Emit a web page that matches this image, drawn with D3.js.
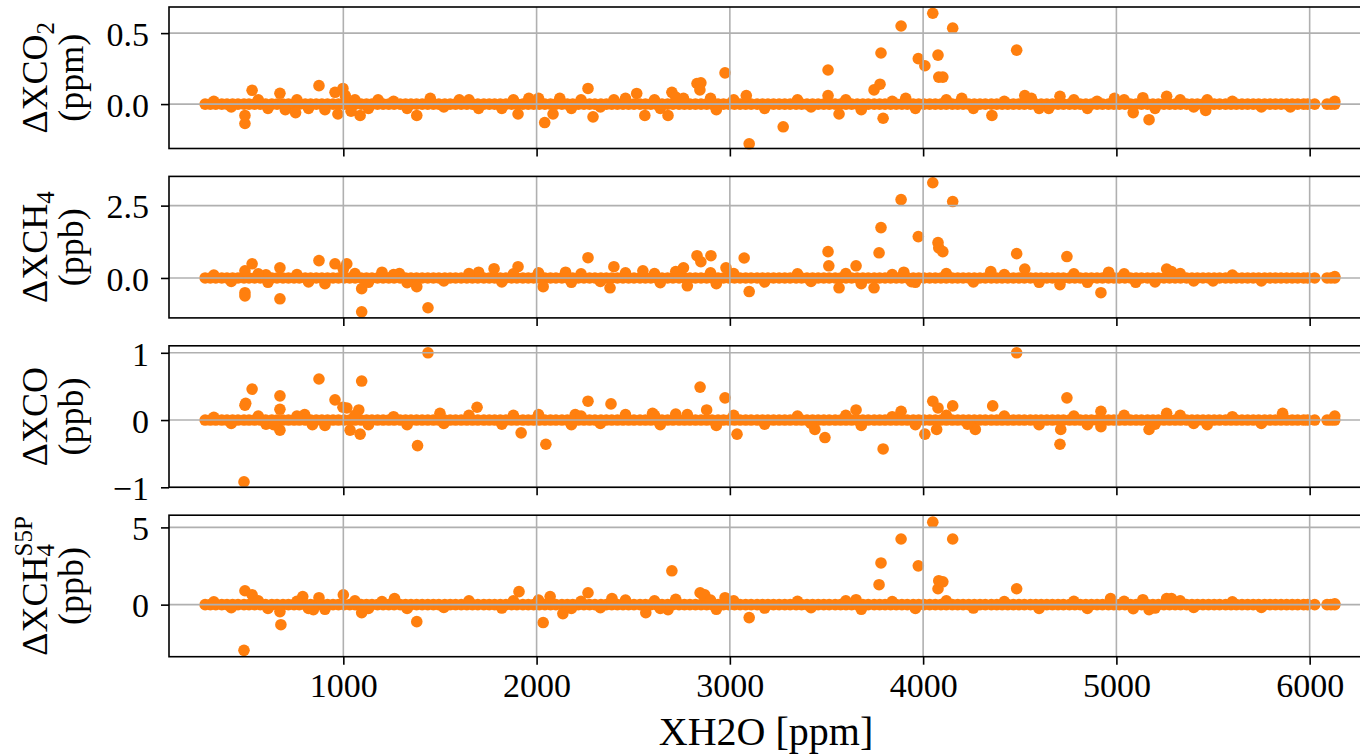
<!DOCTYPE html>
<html>
<head>
<meta charset="utf-8">
<script src="https://cdn.jsdelivr.net/npm/d3@7"></script>
<style>
body { margin: 0; background: #fff; }
svg text { font-family: "Liberation Serif", "DejaVu Serif", serif; fill: #000; }
</style>
</head>
<body>
<div class="chart"></div>
<script>
// shared x axis (XH2O in ppm)
var xTicks = [1000, 2000, 3000, 4000, 5000, 6000];

// x positions of the dense cluster of samples sitting on zero in every panel
var bandX = [285, 312, 340, 371, 398, 427, 455, 486, 512, 541, 570, 598, 630, 657, 688, 716, 745, 772, 803, 831,
	860, 889, 918, 947, 975, 1004, 1033, 1061, 1092, 1120, 1148, 1177, 1206, 1235, 1263, 1294, 1322, 1350, 1379, 1408,
	1437, 1466, 1494, 1525, 1553, 1581, 1610, 1639, 1668, 1696, 1727, 1755, 1783, 1812, 1841, 1870, 1898, 1929, 1957, 1985,
	2014, 2043, 2072, 2100, 2131, 2159, 2187, 2216, 2245, 2274, 2302, 2333, 2361, 2389, 2418, 2447, 2476, 2504, 2535, 2563,
	2591, 2620, 2649, 2678, 2706, 2737, 2765, 2793, 2822, 2851, 2880, 2908, 2939, 2967, 2995, 3024, 3053, 3082, 3110, 3141,
	3169, 3197, 3226, 3255, 3284, 3312, 3343, 3371, 3399, 3428, 3457, 3486, 3514, 3545, 3573, 3601, 3630, 3659, 3688, 3716,
	3747, 3775, 3803, 3832, 3861, 3890, 3918, 3949, 3977, 4005, 4034, 4063, 4092, 4120, 4151, 4179, 4207, 4236, 4265, 4294,
	4322, 4353, 4381, 4409, 4438, 4467, 4496, 4524, 4555, 4583, 4611, 4640, 4669, 4698, 4726, 4757, 4785, 4813, 4842, 4871,
	4900, 4928, 4959, 4987, 5015, 5044, 5073, 5102, 5130, 5161, 5189, 5217, 5246, 5275, 5304, 5332, 5363, 5391, 5419, 5448,
	5477, 5506, 5534, 5565, 5593, 5621, 5650, 5679, 5708, 5736, 5767, 5795, 5823, 5852, 5881, 5910, 5938, 5969, 5990, 6026,
	6090, 6110, 6130];

// samples that leave the zero line, [XH2O, delta]
var co2Points = [[491, -0.08], [491, -0.137], [528, 0.097], [672, 0.076], [874, 0.13], [957, 0.083], [998, 0.11], [1087, -0.08],
	[972, -0.07], [1380, -0.08], [700, -0.04], [753, -0.06], [1010, 0.06], [1040, -0.05], [1180, 0.03], [1450, 0.04], [1600, 0.03],
	[1700, -0.03], [1904, -0.07], [1960, 0.04], [2042, -0.13], [2085, -0.07], [2120, 0.04], [2266, 0.11], [2292, -0.09], [2400, 0.03],
	[2518, 0.075], [2560, -0.08], [2700, 0.083], [2680, -0.08], [2760, 0.04], [2830, 0.145], [2850, 0.15], [2845, 0.1], [2975, 0.22],
	[3085, 0.06], [3100, -0.28], [3276, -0.16], [3508, 0.24], [3508, 0.06], [3565, -0.07], [3746, 0.1], [3777, 0.14], [3782, 0.36],
	[3793, -0.1], [3886, 0.55], [3910, 0.04], [3975, 0.32], [4009, 0.27], [4050, 0.64], [4077, 0.345], [4081, 0.19], [4102, 0.19],
	[4153, 0.535], [4200, 0.04], [4356, -0.08], [4484, 0.38], [4526, 0.06], [4560, 0.04], [4708, 0.055], [4650, -0.03], [4900, 0.02],
	[4990, 0.04], [5087, -0.06], [5137, 0.045], [5169, -0.11], [5260, 0.055], [5462, -0.045], [5470, 0.03], [5900, -0.02], [6130, 0.02],
	[330, 0.02], [420, -0.02], [560, 0.03], [610, -0.03], [760, 0.03], [820, -0.03], [905, -0.04], [1060, 0.03], [1130, -0.03],
	[1260, 0.02], [1330, -0.03], [1520, -0.02], [1650, 0.03], [1820, -0.03], [1880, 0.03], [2010, 0.04], [2180, -0.03], [2230, 0.03],
	[2330, -0.02], [2460, 0.04], [2610, 0.03], [2640, -0.03], [2720, 0.05], [2900, 0.04], [2930, -0.04], [3020, 0.03], [3180, -0.03],
	[3350, 0.03], [3420, -0.02], [3600, 0.03], [3680, -0.04], [3840, 0.02], [3960, -0.03], [4120, 0.03], [4260, -0.03], [4420, 0.02],
	[4600, -0.03], [4780, 0.03], [4850, -0.03], [5040, 0.03], [5200, -0.03], [5330, 0.03], [5400, -0.02], [5600, 0.02], [5750, -0.02]];

var ch4Points = [[491, -0.51], [491, -0.62], [491, 0.25], [528, 0.49], [672, -0.72], [672, 0.35], [874, 0.6], [957, 0.49], [1018, 0.49],
	[1095, -0.37], [1095, -1.17], [1438, -1.03], [1380, -0.3], [600, 0.11], [1000, 0.3], [1200, 0.2], [1290, 0.15], [1700, 0.2],
	[1904, 0.39], [2034, -0.3], [1780, 0.32], [2266, 0.7], [2400, 0.39], [2380, -0.34], [2150, 0.2], [2550, 0.25], [2830, 0.77],
	[2850, 0.56], [2902, 0.77], [2780, -0.27], [2760, 0.35], [2980, 0.35], [3074, 0.69], [3100, -0.47], [3508, 0.91], [3512, 0.42],
	[3565, -0.34], [3653, 0.42], [3772, 0.87], [3782, 1.74], [3746, -0.34], [3886, 2.71], [3900, 0.2], [3940, -0.13], [3975, 1.43],
	[4050, 3.29], [4077, 1.22], [4081, 1.04], [4102, 0.91], [4153, 2.64], [4350, 0.22], [4484, 0.84], [4526, 0.31], [4708, -0.23],
	[4744, 0.74], [4920, -0.51], [4960, 0.2], [5100, -0.15], [5260, 0.31], [5285, 0.22], [5500, -0.1], [6130, 0.05],
	[330, 0.1], [420, -0.12], [560, 0.14], [610, -0.15], [760, 0.12], [820, -0.14], [905, -0.2], [1060, 0.15], [1130, -0.15],
	[1260, 0.12], [1330, -0.16], [1520, -0.1], [1650, 0.15], [1820, -0.14], [1880, 0.14], [2010, 0.18], [2180, -0.15], [2230, 0.14],
	[2330, -0.12], [2460, 0.18], [2610, 0.15], [2640, -0.16], [2720, 0.22], [2900, 0.18], [2930, -0.2], [3020, 0.15], [3180, -0.14],
	[3350, 0.14], [3420, -0.12], [3600, 0.15], [3680, -0.2], [3840, 0.12], [3960, -0.15], [4120, 0.15], [4260, -0.14], [4420, 0.12],
	[4600, -0.15], [4780, 0.14], [4850, -0.15], [5040, 0.14], [5200, -0.14], [5330, 0.15], [5400, -0.1], [5600, 0.1], [5750, -0.1]];

var coPoints = [[486, -0.92], [491, 0.22], [495, 0.25], [528, 0.46], [672, 0.36], [672, 0.16], [672, -0.15], [874, 0.61], [957, 0.3],
	[998, 0.19], [1018, 0.18], [1095, 0.58], [1080, 0.15], [1087, -0.21], [1035, -0.15], [1438, 1.0], [1384, -0.38], [1500, 0.1],
	[600, -0.06], [800, 0.08], [1692, 0.19], [1920, -0.19], [2048, -0.36], [2266, 0.28], [2385, 0.24], [2846, 0.49], [2880, 0.15],
	[2975, 0.33], [3037, -0.21], [3440, -0.14], [3492, -0.26], [3793, -0.43], [3886, 0.13], [3653, 0.15], [4050, 0.28], [4077, 0.18],
	[4153, 0.21], [4009, -0.21], [4070, -0.14], [4360, 0.21], [4270, -0.14], [4484, 1.0], [4744, 0.33], [4708, -0.36], [4712, -0.14],
	[4920, 0.13], [4920, -0.1], [5169, -0.14], [5260, 0.1], [5860, 0.1], [6130, 0.06], [5470, -0.07], [2200, 0.08], [2600, 0.1],
	[330, 0.04], [420, -0.05], [560, 0.06], [640, -0.07], [760, 0.06], [840, -0.07], [905, -0.08], [1060, 0.07], [1130, -0.07],
	[1260, 0.05], [1330, -0.07], [1520, -0.05], [1650, 0.07], [1820, -0.06], [1880, 0.07], [2010, 0.08], [2180, -0.07], [2230, 0.06],
	[2330, -0.05], [2460, 0.08], [2610, 0.07], [2640, -0.07], [2720, 0.09], [2780, 0.08], [2930, -0.08], [3020, 0.07], [3180, -0.06],
	[3350, 0.06], [3420, -0.05], [3600, 0.07], [3680, -0.08], [3840, 0.05], [3960, -0.07], [4120, 0.07], [4230, -0.06], [4420, 0.06],
	[4600, -0.07], [4780, 0.06], [4850, -0.07], [5040, 0.07], [5200, -0.06], [5330, 0.07], [5400, -0.05], [5600, 0.05], [5750, -0.05]];

var s5pPoints = [[486, -2.96], [491, 0.9], [528, 0.64], [677, -1.3], [672, -0.45], [790, 0.52], [874, 0.45], [1000, 0.64], [1095, -0.52],
	[1380, -1.1], [1265, 0.39], [845, -0.32], [1909, 0.84], [2034, -1.16], [2136, -0.58], [2070, 0.52], [2266, 0.77], [2390, 0.39],
	[2565, -0.52], [2700, 2.19], [2680, -0.32], [2846, 0.77], [2870, 0.64], [2860, 0.64], [2975, 0.45], [3100, -0.84], [3653, 0.32],
	[3772, 1.29], [3782, 2.7], [3886, 4.25], [3975, 2.51], [4050, 5.34], [4077, 1.03], [4081, 1.55], [4102, 1.48], [4153, 4.25],
	[4484, 1.03], [4970, 0.39], [5137, 0.32], [5169, -0.32], [5260, 0.39], [5285, 0.39], [5087, -0.26], [6130, 0.05],
	[330, 0.18], [420, -0.2], [560, 0.25], [610, -0.25], [760, 0.22], [820, -0.25], [905, -0.3], [1060, 0.25], [1130, -0.25],
	[1200, 0.2], [1330, -0.25], [1520, -0.18], [1650, 0.25], [1820, -0.22], [1880, 0.25], [2010, 0.3], [2180, -0.25], [2230, 0.22],
	[2330, -0.2], [2460, 0.3], [2610, 0.25], [2640, -0.25], [2720, 0.35], [2900, 0.3], [2930, -0.3], [3020, 0.25], [3180, -0.22],
	[3350, 0.22], [3420, -0.2], [3600, 0.25], [3680, -0.3], [3840, 0.2], [3960, -0.25], [4120, 0.25], [4260, -0.22], [4420, 0.2],
	[4600, -0.25], [4780, 0.22], [4850, -0.25], [5040, 0.22], [5200, -0.22], [5330, 0.25], [5400, -0.18], [5600, 0.18], [5750, -0.18]];

var co2Ticks = [0, 0.5];
var ch4Ticks = [0, 2.5];
var coTicks = [-1, 0, 1];
var s5pTicks = [0, 5];

var panels = [
	{points: co2Points, ticks: co2Ticks, fmt: ".1f", domain: [-0.313, 0.684], name: "ΔXCO", sub: "2", sup: "", unit: "(ppm)"},
	{points: ch4Points, ticks: ch4Ticks, fmt: ".1f", domain: [-1.38, 3.51], name: "ΔXCH", sub: "4", sup: "", unit: "(ppb)"},
	{points: coPoints, ticks: coTicks, fmt: "d", domain: [-1.0, 1.104], name: "ΔXCO", sub: "", sup: "", unit: "(ppb)"},
	{points: s5pPoints, ticks: s5pTicks, fmt: "d", domain: [-3.37, 5.79], name: "ΔXCH", sub: "4", sup: "S5P", unit: "(ppb)"}
];

var left = 169, right = 1363;
var panelH = 141.5, panelStep = 169.4, top0 = 7;
var orange = "#ff7f0e", grid = "#b0b0b0";

var x = d3.scaleLinear().domain([98, 6276]).range([left, right]);

var svg = d3.select(".chart").append("svg").attr("width", 1360).attr("height", 756);

function draw(p, i) {
	var t = top0 + i * panelStep;
	var y = d3.scaleLinear().domain(p.domain).range([t + panelH, t]);
	var g = svg.append("g");

	// points first, grid lines are drawn over them
	g.selectAll("circle.band").data(bandX).enter().append("circle")
		.attr("cx", function(d) { return x(d); }).attr("cy", y(0)).attr("r", 5.8).attr("fill", orange);
	g.selectAll("circle.out").data(p.points).enter().append("circle")
		.attr("cx", function(d) { return x(d[0]); }).attr("cy", function(d) { return y(d[1]); })
		.attr("r", 5.8).attr("fill", orange);

	g.selectAll("line.vg").data(xTicks).enter().append("line")
		.attr("x1", function(d) { return x(d); }).attr("x2", function(d) { return x(d); })
		.attr("y1", t).attr("y2", t + panelH).attr("stroke", grid).attr("stroke-width", 1.6);
	g.selectAll("line.hg").data(p.ticks).enter().append("line")
		.attr("x1", left).attr("x2", right).attr("y1", function(d) { return y(d); }).attr("y2", function(d) { return y(d); })
		.attr("stroke", grid).attr("stroke-width", 1.6);

	g.append("rect").attr("x", left).attr("y", t).attr("width", right - left).attr("height", panelH)
		.attr("fill", "none").attr("stroke", "#000").attr("stroke-width", 1.6);

	var fmt = d3.format(p.fmt);
	var ya = g.append("g").attr("transform", "translate(" + left + ",0)")
		.call(d3.axisLeft(y).tickValues(p.ticks).tickSize(8).tickPadding(12).tickFormat(function(d) { return fmt(d).replace("-", "\u2212"); }));
	ya.select(".domain").remove();
	ya.selectAll(".tick line").attr("stroke-width", 1.6);
	ya.selectAll(".tick text").style("font-size", "34px").attr("dy", "0.36em");

	var xa = g.append("g").attr("transform", "translate(0," + (t + panelH) + ")")
		.call(d3.axisBottom(x).tickValues(xTicks).tickSize(8).tickPadding(8).tickFormat(d3.format("d")));
	xa.select(".domain").remove();
	xa.selectAll(".tick line").attr("stroke-width", 1.6);
	xa.selectAll(".tick text").style("font-size", "34px");
	if (i < 3) xa.selectAll(".tick text").remove();

	// two line y label
	var lab = g.append("g").attr("transform", "translate(0," + (t + panelH / 2) + ") rotate(-90)");
	var l1 = lab.append("text").attr("x", 0).attr("y", 47).attr("text-anchor", "middle").style("font-size", "36px");
	l1.append("tspan").text(p.name);
	if (p.sub != "") l1.append("tspan").attr("dy", 7).style("font-size", "25px").text(p.sub);
	if (p.sup != "") l1.append("tspan").attr("dx", -12.5).attr("dy", -22).style("font-size", "25px").text(p.sup);
	lab.append("text").attr("x", 0).attr("y", 83).attr("text-anchor", "middle").style("font-size", "36px").text(p.unit);
}

panels.forEach(draw);

svg.append("text").attr("x", (left + right) / 2).attr("y", 745).attr("text-anchor", "middle")
	.style("font-size", "40px").text("XH2O [ppm]");
</script>
</body>
</html>
